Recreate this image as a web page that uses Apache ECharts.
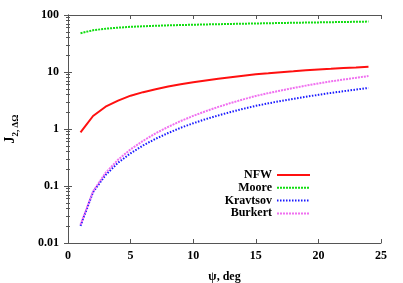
<!DOCTYPE html>
<html><head><meta charset="utf-8">
<script src="https://cdn.jsdelivr.net/npm/echarts@6/dist/echarts.min.js"></script>
<style>html,body{margin:0;padding:0;background:#fff}#c{width:403px;height:283px}</style>
</head><body><div id="c"></div>
<script>
const psi = [1,2,3,4,5,6,7,8,9,10,11,12,13,14,15,16,17,18,19,20,21,22,23,24];
const nfw = [0.87,1.69,2.46,3.14,3.84,4.43,4.99,5.55,6.08,6.6,7.12,7.62,8.11,8.6,9.1,9.5,9.93,10.3,10.7,11.1,11.4,11.76,12.05,12.4];
const moore = [48,54,57.5,60,62,63.5,64.7,65.8,66.7,67.5,68.3,69,69.7,70.4,71,71.7,72.4,73,73.6,74.2,74.8,75.4,76,76.6];
const kravtsov = [0.02,0.078,0.156,0.256,0.375,0.515,0.674,0.85,1.05,1.26,1.49,1.73,1.99,2.26,2.55,2.82,3.1,3.38,3.67,3.98,4.29,4.6,4.92,5.25];
const burkert = [0.021,0.08,0.17,0.29,0.44,0.62,0.84,1.09,1.38,1.7,2.05,2.44,2.86,3.31,3.8,4.26,4.73,5.24,5.77,6.3,6.84,7.38,7.9,8.5];
const yTickLabels = ['0.01','0.1','1','10','100'];
const xTickLabels = ['0','5','10','15','20','25'];
const seriesNames = ['NFW','Moore','Kravtsov','Burkert'];

const font = 'Liberation Serif';
const axisColor = '#555';
const pair = (ys) => psi.map((x, i) => [x, ys[i]]);
const yFmt = v => { const e = Math.round(Math.log10(v)); return yTickLabels[e + 2] ?? ''; };

const chart = echarts.init(document.getElementById('c'), null, {renderer: 'canvas'});
chart.setOption({
  animation: false,
  backgroundColor: '#fff',
  grid: {left: 68, right: 22, top: 15, bottom: 40, show: false, containLabel: false, outerBoundsMode: 'none'},
  legend: {
    orient: 'vertical', align: 'right', right: 92, top: 169, padding: 0,
    itemWidth: 33, itemHeight: 0.2, itemGap: 0.8,
    itemStyle: {opacity: 0},
    textStyle: {fontFamily: font, fontWeight: 'bold', fontSize: 12, color: '#000', lineHeight: 12},
    data: seriesNames
  },
  xAxis: [{
    type: 'value', min: 0, max: 25, interval: 5, position: 'bottom',
    name: 'ψ, deg', nameLocation: 'middle', nameGap: 28,
    nameTextStyle: {fontFamily: font, fontWeight: 'bold', fontSize: 12, color: '#000'},
    axisLine: {lineStyle: {color: axisColor, width: 1}},
    axisTick: {inside: true, length: 4, lineStyle: {color: axisColor}},
    axisLabel: {fontFamily: font, fontWeight: 'bold', fontSize: 12, color: '#000', margin: 7,
      formatter: v => xTickLabels[Math.round(v / 5)]},
    splitLine: {show: false}
  }, {
    type: 'value', min: 0, max: 25, interval: 5, position: 'top',
    axisLine: {lineStyle: {color: axisColor, width: 1}},
    axisTick: {inside: true, length: 4, lineStyle: {color: axisColor}},
    axisLabel: {show: false}, splitLine: {show: false}
  }],
  yAxis: [{
    type: 'log', logBase: 10, min: 0.01, max: 100, position: 'left',
    name: '{j|J}{s|2, ΔΩ}', nameLocation: 'middle', nameGap: 51,
    nameTextStyle: {
      rich: {
        j: {fontFamily: font, fontWeight: 'bold', fontSize: 14, color: '#000', verticalAlign: 'bottom'},
        s: {fontFamily: font, fontWeight: 'bold', fontSize: 9, color: '#000', verticalAlign: 'bottom', padding: [0,0,-3,0]}
      }
    },
    axisLine: {lineStyle: {color: axisColor, width: 1}},
    axisTick: {inside: true, length: 4, lineStyle: {color: axisColor}},
    minorTick: {show: true, splitNumber: 9, length: 2, lineStyle: {color: axisColor}},
    axisLabel: {fontFamily: font, fontWeight: 'bold', fontSize: 12, color: '#000', margin: 9, formatter: yFmt},
    splitLine: {show: false}, minorSplitLine: {show: false}
  }, {
    type: 'log', logBase: 10, min: 0.01, max: 100, position: 'right',
    axisLine: {lineStyle: {color: axisColor, width: 1}},
    axisTick: {inside: true, length: 4, lineStyle: {color: axisColor}},
    minorTick: {show: true, splitNumber: 9, length: 2, lineStyle: {color: axisColor}},
    axisLabel: {show: false}, splitLine: {show: false}, minorSplitLine: {show: false}
  }],
  series: [
    {name: seriesNames[0], type: 'line', data: pair(nfw), symbol: 'none',
      lineStyle: {color: '#ff1010', width: 2, type: 'solid'}, itemStyle: {color: '#ff1010'}},
    {name: seriesNames[1], type: 'line', data: pair(moore), symbol: 'none',
      lineStyle: {color: '#11dd11', width: 2, type: [2, 1]}, itemStyle: {color: '#11dd11'}},
    {name: seriesNames[2], type: 'line', data: pair(kravtsov), symbol: 'none',
      lineStyle: {color: '#1a1aff', width: 2, type: [1.5, 1.5]}, itemStyle: {color: '#1a1aff'}},
    {name: seriesNames[3], type: 'line', data: pair(burkert), symbol: 'none',
      lineStyle: {color: '#f070f0', width: 2, type: [2, 1]}, itemStyle: {color: '#f070f0'}}
  ]
});
</script></body></html>
